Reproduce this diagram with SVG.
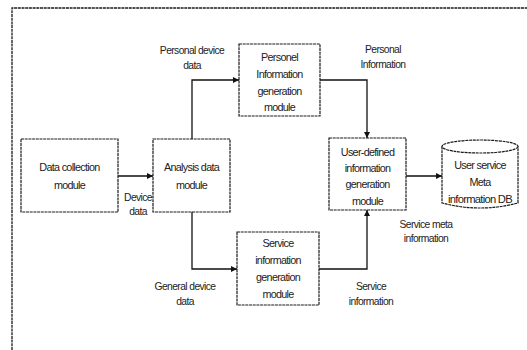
<svg xmlns="http://www.w3.org/2000/svg" width="527" height="350" viewBox="0 0 527 350">
<defs>
<marker id="arr" viewBox="0 0 10 10" refX="10" refY="5" markerWidth="6" markerHeight="6" orient="auto" markerUnits="userSpaceOnUse">
<path d="M0,0 L10,5 L0,10 z" fill="#111"/>
</marker>
<style>
.box{fill:#fff;stroke:#1a1a1a;stroke-width:1.2;stroke-dasharray:3 0.7}
.frame{fill:none;stroke:#1a1a1a;stroke-width:1.3;stroke-dasharray:3 0.7}
.con{fill:none;stroke:#111;stroke-width:1.3;marker-end:url(#arr)}
text{font-family:"Liberation Sans",Arial,sans-serif;font-size:10.8px;letter-spacing:-0.7px;fill:#222;text-anchor:middle;dominant-baseline:central}
.lbl{font-size:10.3px;letter-spacing:-0.6px}
</style>
</defs>
<rect width="527" height="350" fill="#fff"/>
<path class="frame" d="M12,350 V8 H527"/>

<g id="connectors">
<path class="con" d="M118,176 H153"/>
<path class="con" d="M192,139 V80 H239"/>
<path class="con" d="M192,212 V269 H237"/>
<path class="con" d="M320,80 H367 V138"/>
<path class="con" d="M319,269 H367 V210"/>
<path class="con" d="M406,176 H442"/>
</g>

<g id="data-collection">
<rect class="box" x="21" y="139" width="97" height="73"/>
<text x="69.5" y="167">Data collection</text>
<text x="69.5" y="185">module</text>
</g>

<g id="analysis">
<rect class="box" x="153" y="139" width="77" height="73"/>
<text x="191.5" y="167">Analysis data</text>
<text x="191.5" y="185">module</text>
</g>

<g id="personal-info">
<rect class="box" x="239" y="44" width="81" height="72"/>
<text x="279.5" y="57">Personel</text>
<text x="279.5" y="74">Information</text>
<text x="279.5" y="90.5">generation</text>
<text x="279.5" y="107">module</text>
</g>

<g id="service-info">
<rect class="box" x="237" y="232" width="82" height="73"/>
<text x="278" y="243">Service</text>
<text x="278" y="260">information</text>
<text x="278" y="277">generation</text>
<text x="278" y="294">module</text>
</g>

<g id="user-defined">
<rect class="box" x="329" y="138" width="77" height="72"/>
<text x="367.5" y="152">User-defined</text>
<text x="367.5" y="168">information</text>
<text x="367.5" y="184">generation</text>
<text x="367.5" y="200.5">module</text>
</g>

<g id="db">
<path class="box" d="M442,146.5 V203 Q480,213 518,203 V146.5"/>
<ellipse class="box" cx="480" cy="146.5" rx="38" ry="6.5"/>
<text x="480" y="165">User service</text>
<text x="480" y="182">Meta</text>
<text x="480" y="199" textLength="64" lengthAdjust="spacingAndGlyphs">information DB</text>
</g>

<g id="labels">
<text class="lbl" x="192" y="50">Personal device</text>
<text class="lbl" x="192" y="65">data</text>
<text class="lbl" x="383" y="49">Personal</text>
<text class="lbl" x="383" y="64">Information</text>
<text class="lbl" x="138" y="197">Device</text>
<text class="lbl" x="138" y="211">data</text>
<text class="lbl" x="185" y="286">General device</text>
<text class="lbl" x="185" y="301">data</text>
<text class="lbl" x="426" y="224">Service meta</text>
<text class="lbl" x="426" y="238">information</text>
<text class="lbl" x="371" y="286">Service</text>
<text class="lbl" x="371" y="301">information</text>
</g>
</svg>
